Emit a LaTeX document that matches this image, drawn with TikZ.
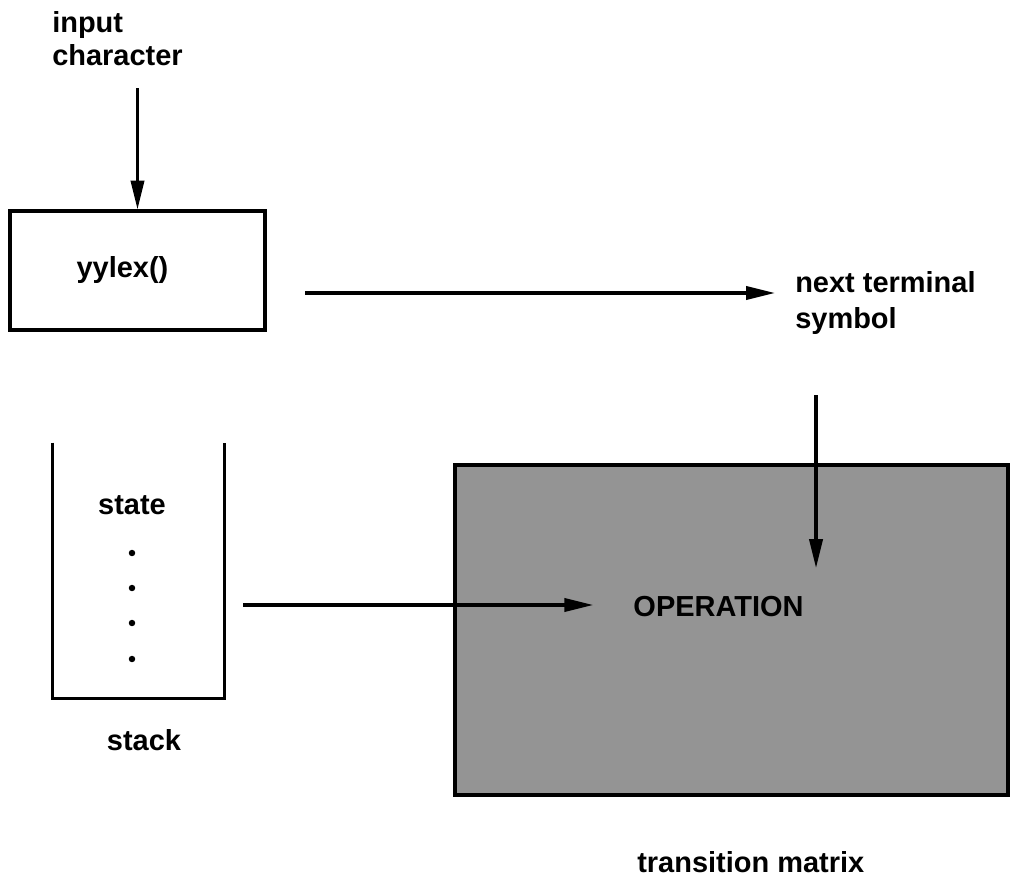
\documentclass[tikz,border=0pt]{standalone}
\usepackage{fontspec}
\setmainfont{Liberation Sans}
\usetikzlibrary{arrows.meta,positioning}
\definecolor{matrixGray}{RGB}{148,148,148}

\begin{document}
\begin{tikzpicture}[
  x=0.025cm,y=-0.025cm,
  every node/.style={font=\fontsize{20.6pt}{23.5pt}\selectfont\bfseries},
  lbl/.style={inner sep=0pt},
  boxed/.style={draw,line width=2.3pt,inner sep=0pt},
  arr/.style={-{Triangle[length=0.72cm,width=0.33cm]},line width=2.2pt}
]
  \useasboundingbox (0,0) rectangle (1010,882);

  % lexer box
  \node[lbl,align=left,anchor=north west] (inchar) at (52,11) {input\\character};
  \node[boxed,minimum width=6.375cm,minimum height=2.975cm] (yylex) at (137.5,270.5)
    {\raisebox{0.2cm}{yylex()\hspace{0.75cm}}};
  \coordinate (inTail) at (137.5,88);
  \draw[arr] (inTail) -- (yylex);

  \node[lbl,align=left,anchor=north west,
    font=\fontsize{20.6pt}{25.5pt}\selectfont\bfseries] (nts) at (795,271) {next terminal\\symbol};
  \coordinate (lexTail) at (305,293);
  \draw[arr,shorten >=0.5cm] (lexTail) -- (lexTail -| nts.west);

  % stack
  \node[minimum width=4.275cm,minimum height=6.375cm,inner sep=0pt] (stk) at (138.5,570.5) {};
  \draw[line width=2.3pt] (stk.north west) -- (stk.south west) -- (stk.south east) -- (stk.north east);
  \node (state) at (132,505) {state};
  \foreach \y in {553,588,623,659}
    \fill (132,\y) circle (2.3pt);
  \node (stklbl) at (144,740) {stack};

  % transition matrix
  \node[boxed,fill=matrixGray,minimum width=13.825cm,minimum height=8.25cm] (tmat) at (731.5,630) {};
  \node[lbl,inner xsep=1cm] (op) at (718.5,607) {OPERATION};
  \coordinate (stkTail) at (243,605);
  \draw[arr] (stkTail) -- (stkTail -| op.west);
  \coordinate (symTail) at (816,395);
  \coordinate (symTip) at (816,568);
  \draw[arr] (symTail) -- (symTip);
  \node[lbl,anchor=base west] (tlbl) at (637,872) {transition matrix};
\end{tikzpicture}
\end{document}
